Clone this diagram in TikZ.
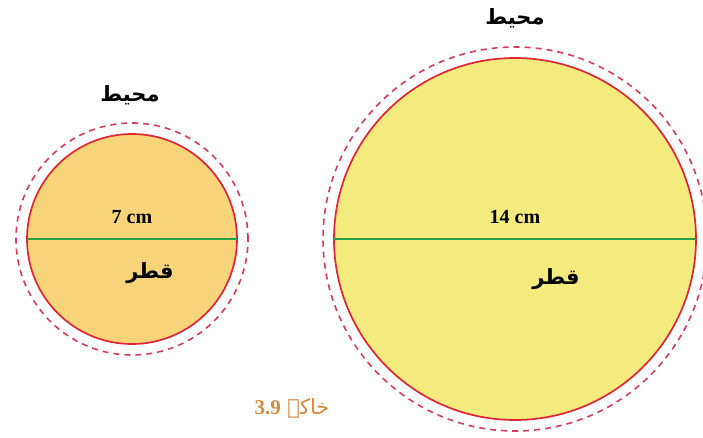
\documentclass[tikz,border=0pt]{standalone}
\usepackage{fontspec}
\setmainfont{Liberation Serif}
\newfontfamily\urdufont[Script=Arabic]{DejaVu Sans}
\TeXXeTstate=1
\definecolor{rimred}{RGB}{222,38,52}
\definecolor{dashred}{RGB}{214,58,92}
\definecolor{diamgreen}{RGB}{38,160,72}
\definecolor{smallfill}{RGB}{247,211,122}
\definecolor{bigfill}{RGB}{245,234,125}
\definecolor{captionorange}{RGB}{212,138,62}
\tikzset{
  disc/.style={circle, draw=rimred, line width=1.7pt, inner sep=0pt, outer sep=0pt},
  rimdash/.style={circle, draw=dashred, line width=1.6pt, dash pattern=on 6pt off 5pt, inner sep=0pt},
  diam/.style={draw=diamgreen, line width=1.7pt},
  urdu/.style={font=\urdufont\bfseries\fontsize{21}{21}\selectfont},
  measure/.style={font=\bfseries\fontsize{20}{20}\selectfont}
}
\begin{document}
\begin{tikzpicture}[x=1pt, y=-1pt]
  \useasboundingbox (0,0) rectangle (703,438);
  % Small circle: 7 cm across.
  \node[rimdash, minimum size=232pt] (smallrim) at (132,239) {};
  \node[disc, fill=smallfill, minimum size=210pt] (small) at (132,239) {};
  \draw[diam] (small.west) -- (small.east);
  \node[measure] (smallsize) at (132,217) {7 cm};
  \node[urdu] (smalldiam) at (150,273) {\beginR قطر\endR};
  \node[urdu] (smallcirc) at (130,95) {\beginR محیط\endR};
  % Big circle: 14 cm across.
  \node[rimdash, minimum size=384pt] (bigrim) at (515,239) {};
  \node[disc, fill=bigfill, minimum size=362pt] (big) at (515,239) {};
  \draw[diam] (big.west) -- (big.east);
  \node[measure] (bigsize) at (515,217) {14 cm};
  \node[urdu] (bigdiam) at (556,279) {\beginR قطر\endR};
  \node[urdu] (bigcirc) at (515,18) {\beginR محیط\endR};
  % Caption
  \node[urdu, font=\urdufont\fontsize{21}{21}\selectfont, text=captionorange] (caption) at (292,408)
    {\beginR خاکہ \beginL{\rmfamily\bfseries 3.9}\endL\endR};
\end{tikzpicture}
\end{document}
